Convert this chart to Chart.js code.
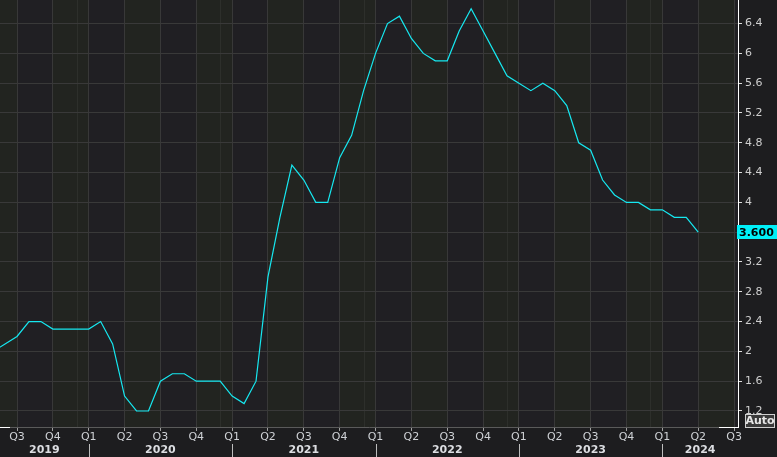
<!DOCTYPE html>
<html>
<head>
 <meta charset="utf-8" />
 <title>Core CPI y/y</title>
 <script src="https://cdn.jsdelivr.net/npm/chart.js@4.4.1/dist/chart.umd.min.js"></script>
 <style>
  html, body { margin: 0; padding: 0; background: #1d1d1f; overflow: hidden; }
  #wrap { position: absolute; left: 0; top: -8px; width: 777px; height: 465px; }
 </style>
</head>
<body>
 <div id="wrap"><canvas id="myChart" width="777" height="465"></canvas></div>

 <script>
  // monthly readings, May 2019 .. Apr 2024
  var months = [
   '2019-05', '2019-06', '2019-07', '2019-08', '2019-09', '2019-10', '2019-11', '2019-12',
   '2020-01', '2020-02', '2020-03', '2020-04', '2020-05', '2020-06', '2020-07', '2020-08', '2020-09', '2020-10', '2020-11', '2020-12',
   '2021-01', '2021-02', '2021-03', '2021-04', '2021-05', '2021-06', '2021-07', '2021-08', '2021-09', '2021-10', '2021-11', '2021-12',
   '2022-01', '2022-02', '2022-03', '2022-04', '2022-05', '2022-06', '2022-07', '2022-08', '2022-09', '2022-10', '2022-11', '2022-12',
   '2023-01', '2023-02', '2023-03', '2023-04', '2023-05', '2023-06', '2023-07', '2023-08', '2023-09', '2023-10', '2023-11', '2023-12',
   '2024-01', '2024-02', '2024-03', '2024-04'
  ];
  var values = [
   2.0, 2.1, 2.2, 2.4, 2.4, 2.3, 2.3, 2.3,
   2.3, 2.4, 2.1, 1.4, 1.2, 1.2, 1.6, 1.7, 1.7, 1.6, 1.6, 1.6,
   1.4, 1.3, 1.6, 3.0, 3.8, 4.5, 4.3, 4.0, 4.0, 4.6, 4.9, 5.5,
   6.0, 6.4, 6.5, 6.2, 6.0, 5.9, 5.9, 6.3, 6.6, 6.3, 6.0, 5.7,
   5.6, 5.5, 5.6, 5.5, 5.3, 4.8, 4.7, 4.3, 4.1, 4.0, 4.0, 3.9,
   3.9, 3.8, 3.8, 3.6
  ];

  // bottom axis
  var quarterDates = [
   '2019-07', '2019-10', '2020-01', '2020-04', '2020-07', '2020-10', '2021-01', '2021-04', '2021-07', '2021-10',
   '2022-01', '2022-04', '2022-07', '2022-10', '2023-01', '2023-04', '2023-07', '2023-10', '2024-01', '2024-04', '2024-07'
  ];
  var quarterLabels = ['Q3', 'Q4', 'Q1', 'Q2', 'Q3', 'Q4', 'Q1', 'Q2', 'Q3', 'Q4', 'Q1', 'Q2', 'Q3', 'Q4', 'Q1', 'Q2', 'Q3', 'Q4', 'Q1', 'Q2', 'Q3'];
  var yearLabels = ['2019', '2020', '2021', '2022', '2023', '2024'];

  // right axis
  var yTicks = [1.2, 1.6, 2.0, 2.4, 2.8, 3.2, 3.6, 4.0, 4.4, 4.8, 5.2, 5.6, 6.0, 6.4, 6.8];
  var yTickLabels = ['1.2', '1.6', '2', '2.4', '2.8', '3.2', '3.6', '4', '4.4', '4.8', '5.2', '5.6', '6', '6.4', '6.8'];

  // visible window (month index from Jan 2019)
  var xMin = 4.577, xMax = 66.33;
  var yMin = 0.985, yMax = 6.824;

  function monthIndex(s) {
   var p = s.split('-');
   return (parseInt(p[0], 10) - 2019) * 12 + parseInt(p[1], 10) - 1;
  }

  var points = months.map(function (m, i) { return { x: monthIndex(m), y: values[i] }; });
  var quarterIdx = quarterDates.map(monthIndex);
  var yearCenters = yearLabels.map(function (y) {
   var a = (parseInt(y, 10) - 2019) * 12, b = a + 12;
   return (Math.max(a, xMin) + Math.min(b, xMax)) / 2;
  });

  function noPad(s) {
   s.paddingTop = 0; s.paddingBottom = 0;
   s.paddingLeft = 0; s.paddingRight = 0;
  }

  var backdrop = {
   id: 'backdrop',
   beforeDraw: function (chart) {
    var ctx = chart.ctx, a = chart.chartArea, sx = chart.scales.x;
    ctx.save();
    ctx.fillStyle = '#1d1d1f';
    ctx.fillRect(0, 0, chart.width, chart.height);
    // alternating quarter bands
    for (var q = 3; q < 69; q += 3) {
     var x0 = Math.max(a.left, sx.getPixelForValue(q));
     var x1 = Math.min(a.right, sx.getPixelForValue(q + 3));
     if (x1 <= x0) continue;
     ctx.fillStyle = (q % 6 == 3) ? '#222420' : '#201f23';
     ctx.fillRect(x0, a.top, x1 - x0, a.bottom - a.top);
    }
    // faint year-end lines
    ctx.strokeStyle = 'rgba(255,255,255,0.05)';
    ctx.lineWidth = 1;
    for (var d = 11; d < 66; d += 12) {
     var xd = Math.round(sx.getPixelForValue(d)) + 0.5;
     ctx.beginPath();
     ctx.moveTo(xd, a.top);
     ctx.lineTo(xd, a.bottom);
     ctx.stroke();
    }
    ctx.restore();
   },
   afterDraw: function (chart) {
    var ctx = chart.ctx, a = chart.chartArea, sx = chart.scales.x, sy = chart.scales.y;
    ctx.save();
    // year separators
    ctx.strokeStyle = '#bdbdbd';
    ctx.lineWidth = 1;
    for (var y = 2020; y <= 2024; y++) {
     var xs = Math.round(sx.getPixelForValue((y - 2019) * 12)) + 0.5;
     ctx.beginPath();
     ctx.moveTo(xs, a.bottom + 17);
     ctx.lineTo(xs, chart.height);
     ctx.stroke();
    }
    // white stubs on the time axis
    ctx.strokeStyle = '#ffffff';
    var yb = Math.round(a.bottom) + 0.5;
    ctx.beginPath();
    ctx.moveTo(a.left, yb); ctx.lineTo(a.left + 10, yb);
    ctx.moveTo(a.right - 19, yb); ctx.lineTo(a.right, yb);
    ctx.stroke();

    // last value tag
    var last = values[values.length - 1];
    var py = Math.round(sy.getPixelForValue(last));
    ctx.fillStyle = '#00f0f8';
    ctx.fillRect(a.right - 1, py - 7, chart.width - a.right + 1, 14);
    ctx.fillStyle = '#000000';
    ctx.font = 'bold 11px "DejaVu Sans", Verdana, sans-serif';
    ctx.textBaseline = 'middle';
    ctx.textAlign = 'left';
    ctx.fillText(last.toFixed(3), a.right + 1, py + 1);

    // Auto button
    var bx = 745.5, by = a.bottom - 12.5;
    ctx.fillStyle = '#3a3a3a';
    ctx.fillRect(bx, by, 29, 13);
    ctx.strokeStyle = '#d0d0d0';
    ctx.strokeRect(bx, by, 29, 13);
    ctx.fillStyle = '#e6e6e6';
    ctx.textAlign = 'center';
    ctx.fillText('Auto', bx + 14.5, by + 7);
    ctx.restore();
   }
  };

  Chart.defaults.font.family = '"DejaVu Sans", Verdana, sans-serif';
  Chart.defaults.font.size = 11;

  var ctx = document.getElementById('myChart').getContext('2d');
  var chart = new Chart(ctx, {
   type: 'line',
   data: {
    datasets: [{
     data: points,
     borderColor: '#16e8f0',
     borderWidth: 1.2,
     pointRadius: 0,
     tension: 0,
     fill: false,
     xAxisID: 'x',
     yAxisID: 'y'
    }]
   },
   options: {
    responsive: false,
    animation: false,
    layout: { padding: 0, autoPadding: false },
    plugins: { legend: { display: false }, tooltip: { enabled: false } },
    scales: {
     x: {
      type: 'linear', position: 'bottom', weight: 0,
      min: xMin, max: xMax, bounds: 'data',
      afterBuildTicks: function (s) { s.ticks = quarterIdx.map(function (v) { return { value: v }; }); },
      afterFit: function (s) { s.height = 16; noPad(s); },
      border: { color: '#5a5a5a' },
      grid: { color: '#383838', tickColor: '#a0a0a0', tickLength: 4 },
      ticks: {
       color: '#cfd2d6', padding: 0, autoSkip: false, maxRotation: 0,
       callback: function (v, i) { return quarterLabels[i]; }
      }
     },
     xYear: {
      type: 'linear', position: 'bottom', weight: 1,
      min: xMin, max: xMax, bounds: 'data',
      afterBuildTicks: function (s) { s.ticks = yearCenters.map(function (v) { return { value: v }; }); },
      afterFit: function (s) { s.height = 14; noPad(s); },
      border: { display: false },
      grid: { display: false, drawTicks: false, tickLength: 0 },
      ticks: {
       color: '#dcdee2', padding: 1, autoSkip: false, maxRotation: 0,
       font: { size: 11, weight: 'bold' },
       callback: function (v, i) { return yearLabels[i]; }
      }
     },
     y: {
      position: 'right',
      min: yMin, max: yMax, bounds: 'data',
      afterBuildTicks: function (s) { s.ticks = yTicks.map(function (v) { return { value: v }; }); },
      afterFit: function (s) { s.width = 39; noPad(s); },
      border: { color: '#ffffff', width: 1 },
      grid: { color: '#393939', tickColor: '#dcdcdc', tickLength: 4 },
      ticks: {
       color: '#cfcfcf', padding: 3,
       callback: function (v, i) { return yTickLabels[i]; }
      }
     }
    }
   },
   plugins: [backdrop]
  });
 </script>
</body>
</html>
